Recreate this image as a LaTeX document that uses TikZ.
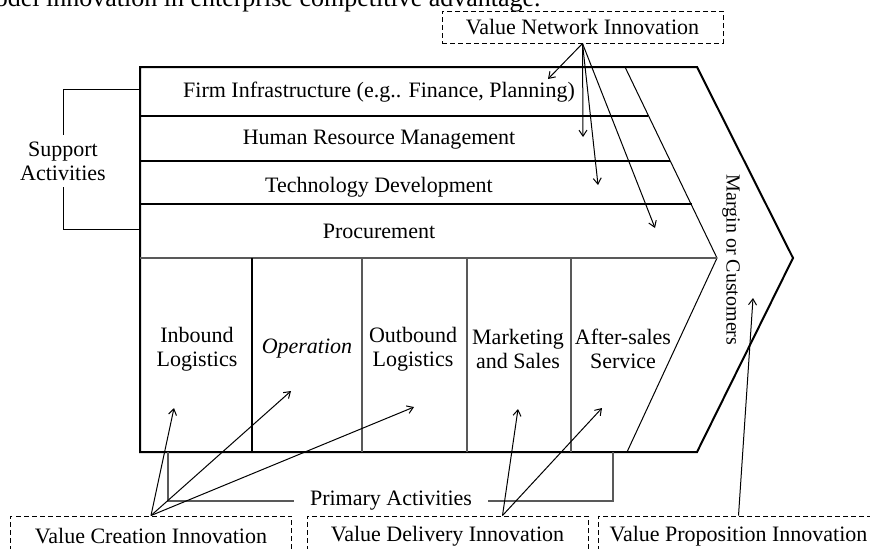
\documentclass[tikz,border=0pt]{standalone}
\usepackage{fontspec}
\setmainfont{Liberation Serif}
\usetikzlibrary{arrows.meta,positioning}

\begin{document}
\begin{tikzpicture}[x=0.5pt,y=-0.5pt,
    lbl/.style={font=\fontsize{11}{12}\selectfont,align=center},
    innov/.style={draw,dash pattern=on 2.5pt off 1.5pt,line width=0.5pt,minimum width=140.5pt,minimum height=20pt,font=\fontsize{11}{12}\selectfont},
    arr/.style={-{Straight Barb[length=3pt,width=4pt]},line width=0.5pt},
    frame/.style={line width=1pt},
    prim/.style={draw=black!65,line width=0.7pt}]
\useasboundingbox (0,0) rectangle (870,548);

% caption line, cut by the page edge
\node[anchor=base east,inner sep=0pt,font=\fontsize{13}{15}\selectfont] (cap) at (541,6) {model innovation in enterprise competitive advantage.};

% value chain outline
\draw[frame] (140,67) -- (697,67) -- (793,258) -- (697,452) -- (140,452) -- cycle;
\draw[line width=0.5pt] (625,67) -- (717,258) -- (627,452);
\foreach \y/\x in {116/648,161/670,204/692}
    \draw[frame] (140,\y) -- (\x,\y);
\draw[prim] (140,258) -- (717,258);
\foreach \x/\c in {252/black,362/black!65,467/black!65,571/black!65}
    \draw[prim,draw=\c] (\x,258) -- (\x,452);

% support activities
\foreach \t/\y [count=\n] in {{Firm Infrastructure (e.g.. Finance, Planning)}/92,Human Resource Management/140,Technology Development/187,Procurement/231}
    \node[lbl] (S\n) at (379,\y) {\t};

% primary activities
\foreach \t/\x [count=\n] in {Inbound\\Logistics/197,\textit{Operation}/307,Outbound\\Logistics/413,Marketing\\and Sales/518,After-sales\\Service/623}
    \node[lbl] (P\n) at (\x,349) {\t};

\node[lbl,font=\fontsize{10}{12}\selectfont,rotate=-90] (mc) at (731,260) {Margin or Customers};

% brackets
\node[lbl] (sa) at (63,161) {Support\\Activities};
\coordinate (st) at (140,89);
\coordinate (sb) at (140,229);
\draw[line width=0.5pt] (st) -| (sa.north);
\draw[line width=0.5pt] (sb) -| (sa.south);

\node[lbl,inner xsep=8pt] (pa) at (391,501) {Primary Activities};
\coordinate (pl) at (168,452);
\coordinate (pr) at (613,452);
\draw[prim] (pl) |- (pa.west);
\draw[prim] (pr) |- (pa.east);

% innovation boxes
\node[innov,minimum height=16pt] (vni) at (582.5,27) {Value Network Innovation};
\node[innov] (vci) at (151,536) {Value Creation Innovation};
\node[innov] (vdi) at (447.5,536) {Value Delivery Innovation};
\node[innov] (vpi) at (738.5,536) {Value Proposition Innovation};

% arrow targets
\coordinate (n1) at (548,79);
\coordinate (n2) at (583,137);
\coordinate (n3) at (598,185);
\coordinate (n4) at (655,228);
\coordinate (c1) at (174,408);
\coordinate (c2) at (291,391);
\coordinate (c3) at (414,407);
\coordinate (d1) at (518,409);
\coordinate (d2) at (602,408);
\coordinate (p1) at (753,298);
\coordinate (vdo) at ([xshift=27.5pt]vdi.north);

\path[arr]
    (vni.south) edge (n1) edge (n2) edge (n3) edge (n4)
    (vci.north) edge (c1) edge (c2) edge (c3)
    (vdo) edge (d1) edge (d2)
    (vpi.north) edge (p1);
\end{tikzpicture}
\end{document}
